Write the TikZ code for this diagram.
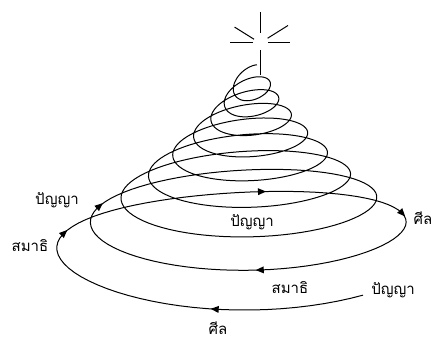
\documentclass[tikz,border=0pt]{standalone}
\usepackage{fontspec}
\newfontfamily\thai[Script=Thai]{Loma}
\usetikzlibrary{calc}
\begin{document}
\begin{tikzpicture}[x=1pt,y=1pt,line width=1pt,
 declare function={sprx(\s)=15+176*(1-\s/9)^1.76; spry(\s)=0.22*sprx(\s)+10; spcx(\s)=239+1.4*\s; spcy(\s)=248-27*\s+0.85*\s*\s;
  spx(\s)=spcx(\s)-sprx(\s)*sin(360*\s); spy(\s)=347-spcy(\s)-spry(\s)*cos(360*\s)-10*exp(-\s)*cos(360*\s)*cos(360*\s)-5*sin(360*\s);},
 lbl/.style={font=\thai\fontsize{15}{18}\selectfont,inner sep=1pt}]
\useasboundingbox(0,0)rectangle(438,347);
\draw plot[domain=-0.11:8.57,samples=700,variable=\s]({spx(\s)},{spy(\s)});
\foreach \p in {0.02,0.29,0.52,0.71,0.98,1.30}{\pgfmathsetmacro\ang{atan2(spy(\p+0.003)-spy(\p),spx(\p+0.003)-spx(\p))}
 \fill[shift={({spx(\p)},{spy(\p)})},rotate=\ang](4.5,0)--(-3.5,3.5)--(-3.5,-3.5)--cycle;}
\coordinate(star)at(260,304);
\foreach \a/\i/\o in {90/10/31,270/7/32,180/7/30,0/8/30,148/7/30,32/9/33}\draw($(star)+(\a:\i)$)--($(star)+(\a:\o)$);
\node[lbl](pyl)at(57,147){ปัญญา};\node[lbl](sml)at(30,101){สมาธิ};\node[lbl](pyc)at(252,125){ปัญญา};\node[lbl](slr)at(423,129){ศีล};
\node[lbl](smb)at(290,59){สมาธิ};\node[lbl](pyb)at(393,57){ปัญญา};\node[lbl](slb)at(218,19){ศีล};
\end{tikzpicture}
\end{document}
